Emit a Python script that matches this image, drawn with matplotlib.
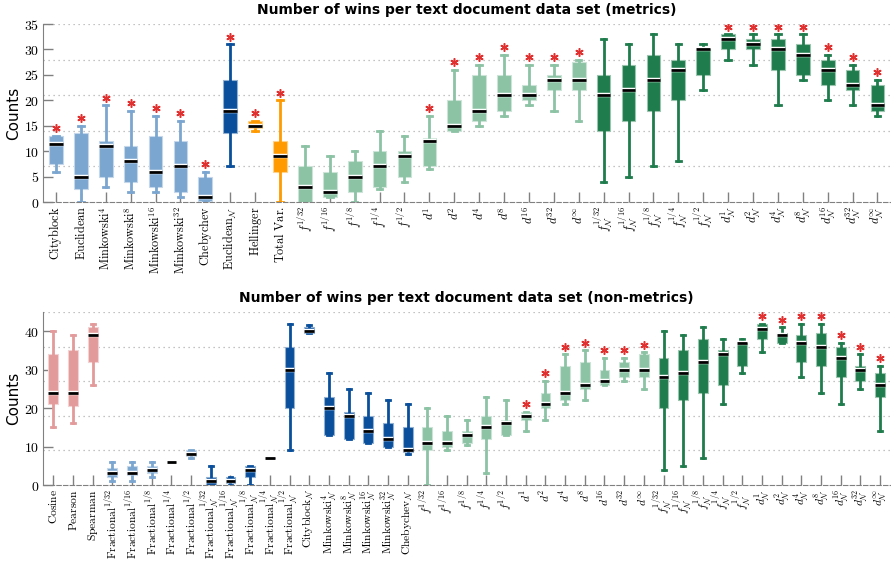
import numpy as np
import matplotlib
matplotlib.use("Agg")
import matplotlib.pyplot as plt
import matplotlib.patheffects as pe

plt.rcParams["mathtext.fontset"] = "cm"

# colours per method family
LBLUE = "#7ba6d0"
DBLUE = "#0a4f9c"
ORANGE = "#ff9a00"
LGREEN = "#8cc3a5"
DGREEN = "#1f7c4c"
PINK = "#e39a9a"
STAR = "#e0302f"

# ---- metrics ----
met_labels = [
    r"$\mathrm{Cityblock}$", r"$\mathrm{Euclidean}$",
    r"$\mathrm{Minkowski}^{4}$", r"$\mathrm{Minkowski}^{8}$",
    r"$\mathrm{Minkowski}^{16}$", r"$\mathrm{Minkowski}^{32}$",
    r"$\mathrm{Chebychev}$", r"$\mathrm{Euclidean}_{\mathcal{N}}$",
    r"$\mathrm{Hellinger}$", r"$\mathrm{Total\ Var.}$",
    r"$f^{1/32}$", r"$f^{1/16}$", r"$f^{1/8}$", r"$f^{1/4}$", r"$f^{1/2}$",
    r"$d^{1}$", r"$d^{2}$", r"$d^{4}$", r"$d^{8}$", r"$d^{16}$", r"$d^{32}$",
    r"$d^{\infty}$",
    r"$f_{\mathcal{N}}^{1/32}$", r"$f_{\mathcal{N}}^{1/16}$",
    r"$f_{\mathcal{N}}^{1/8}$", r"$f_{\mathcal{N}}^{1/4}$",
    r"$f_{\mathcal{N}}^{1/2}$",
    r"$d_{\mathcal{N}}^{1}$", r"$d_{\mathcal{N}}^{2}$", r"$d_{\mathcal{N}}^{4}$",
    r"$d_{\mathcal{N}}^{8}$", r"$d_{\mathcal{N}}^{16}$",
    r"$d_{\mathcal{N}}^{32}$", r"$d_{\mathcal{N}}^{\infty}$",
]
met_lo = [6, 0, 3, 2, 2, 1, 0, 7, 14, 0,
          0, 1, 0, 2.5, 4, 6.5, 14, 15, 17, 19, 18, 16,
          4, 5, 7, 8, 22, 28, 27, 19, 24, 20, 19, 17]
met_q1 = [7.5, 2.5, 5, 4, 3, 2, 0.3, 13.5, 14.5, 6,
          0, 1, 2, 3, 5, 7, 14, 16, 18, 20, 22, 22,
          14, 16, 18, 20, 25, 30, 30, 26, 25, 23, 22, 18]
met_med = [11.5, 5, 11, 8, 6, 7, 1, 18, 15, 9,
           3, 2, 5, 7, 9, 12, 15, 18, 21, 21, 24, 24,
           21, 22, 24, 26, 30, 32, 31, 30, 29, 26, 23, 19]
met_q3 = [13, 13.5, 12, 11, 13, 12, 5, 24, 16, 12,
          7, 6, 8, 10, 10, 12.5, 20, 25, 25, 23, 25, 27.5,
          25, 27, 29, 28, 30, 33, 32, 32, 31, 28, 26, 23]
met_hi = [13, 15, 19, 18, 17, 16, 6, 31, 16, 20,
          11, 9, 10, 14, 13, 17, 26, 27, 29, 27, 27, 28,
          32, 31, 33, 31, 31, 33, 33, 33, 33, 29, 27, 24]
met_sig = [1] * 10 + [0] * 5 + [1] * 7 + [0] * 5 + [1] * 7
met_colors = ([LBLUE] * 7 + [DBLUE, ORANGE, ORANGE]
              + [LGREEN] * 12 + [DGREEN] * 12)

# ---- non-metrics ----
non_labels = [
    r"$\mathrm{Cosine}$", r"$\mathrm{Pearson}$", r"$\mathrm{Spearman}$",
    r"$\mathrm{Fractional}^{1/32}$", r"$\mathrm{Fractional}^{1/16}$",
    r"$\mathrm{Fractional}^{1/8}$", r"$\mathrm{Fractional}^{1/4}$",
    r"$\mathrm{Fractional}^{1/2}$",
    r"$\mathrm{Fractional}_{\mathcal{N}}^{1/32}$",
    r"$\mathrm{Fractional}_{\mathcal{N}}^{1/16}$",
    r"$\mathrm{Fractional}_{\mathcal{N}}^{1/8}$",
    r"$\mathrm{Fractional}_{\mathcal{N}}^{1/4}$",
    r"$\mathrm{Fractional}_{\mathcal{N}}^{1/2}$",
    r"$\mathrm{Cityblock}_{\mathcal{N}}$",
    r"$\mathrm{Minkowski}_{\mathcal{N}}^{4}$",
    r"$\mathrm{Minkowski}_{\mathcal{N}}^{8}$",
    r"$\mathrm{Minkowski}_{\mathcal{N}}^{16}$",
    r"$\mathrm{Minkowski}_{\mathcal{N}}^{32}$",
    r"$\mathrm{Chebychev}_{\mathcal{N}}$",
    r"$f^{1/32}$", r"$f^{1/16}$", r"$f^{1/8}$", r"$f^{1/4}$", r"$f^{1/2}$",
    r"$d^{1}$", r"$d^{2}$", r"$d^{4}$", r"$d^{8}$", r"$d^{16}$", r"$d^{32}$",
    r"$d^{\infty}$",
    r"$f_{\mathcal{N}}^{1/32}$", r"$f_{\mathcal{N}}^{1/16}$",
    r"$f_{\mathcal{N}}^{1/8}$", r"$f_{\mathcal{N}}^{1/4}$",
    r"$f_{\mathcal{N}}^{1/2}$",
    r"$d_{\mathcal{N}}^{1}$", r"$d_{\mathcal{N}}^{2}$", r"$d_{\mathcal{N}}^{4}$",
    r"$d_{\mathcal{N}}^{8}$", r"$d_{\mathcal{N}}^{16}$",
    r"$d_{\mathcal{N}}^{32}$", r"$d_{\mathcal{N}}^{\infty}$",
]
non_lo = [15, 16, 26, 1, 1, 2, 6, 7, 0, 0, 0, 7, 9,
          39.5, 13, 12, 11, 10, 8,
          0, 9, 10.5, 3, 13, 14, 17, 21, 22, 26, 27, 25,
          4, 5, 7, 21, 29, 34.5, 37, 28, 24, 21, 25, 14]
non_q1 = [21, 20.5, 32, 2, 2.5, 3, 6, 7.5, 0, 0.5, 2, 7, 20,
          39.5, 13, 12, 11, 10, 8.5,
          9, 10, 11, 12, 13, 17, 20, 22, 25, 26, 28, 28,
          20, 22, 24, 26, 31, 38, 37, 32, 31, 28, 27, 23]
non_med = [24, 24, 39, 3, 3, 4, 6, 8, 1, 1, 4, 7, 30,
           40, 20, 18, 14, 12, 9,
           11, 11, 13, 15, 16, 18, 21, 24, 26, 27, 30, 30,
           28, 29, 32, 34, 37, 40.5, 39, 37, 36, 33, 30, 26]
non_q3 = [34, 35, 41, 4.5, 5, 5, 6, 9, 2, 2, 5, 7, 36,
          41, 23, 19, 18, 16, 15,
          15, 14, 14, 18, 17, 19, 24, 31, 32, 30, 32, 34,
          33, 35, 38, 35, 37, 42, 39.5, 39, 39.5, 36, 31, 29]
non_hi = [40, 39, 42, 6, 6, 6, 6, 9, 5, 2, 5, 7, 42,
          41.5, 29, 25, 24, 22, 21,
          20, 18, 17, 23, 22, 19, 27, 34, 35, 33, 33, 34.5,
          40, 39, 41, 38, 38, 42, 41, 42, 42, 37, 34, 31]
non_sig = [0] * 24 + [1] * 7 + [0] * 5 + [1] * 7
non_colors = ([PINK] * 3 + [LBLUE] * 5 + [DBLUE] * 11
              + [LGREEN] * 12 + [DGREEN] * 12)


def lighten(c, amt=0.55):
    rgb = np.array(matplotlib.colors.to_rgb(c))
    return tuple(rgb + (1 - rgb) * amt)


def draw_panel(ax, labels, lo, q1, med, q3, hi, sig, colors, ymax, ystep,
               star_off, title, box_w, lab_size):
    n = len(labels)
    pos = np.arange(1, n + 1)
    stats = [dict(whislo=a, q1=b, med=c, q3=d, whishi=e)
             for a, b, c, d, e in zip(lo, q1, med, q3, hi)]
    art = ax.bxp(stats, positions=pos, widths=box_w, showfliers=False,
                 patch_artist=True, capwidths=box_w * 0.4,
                 medianprops=dict(color="black", linewidth=2.0,
                                  path_effects=[pe.withStroke(linewidth=3.2,
                                                              foreground="white")]))
    for i, c in enumerate(colors):
        art["boxes"][i].set_facecolor(c)
        art["boxes"][i].set_edgecolor(lighten(c))
        art["boxes"][i].set_linewidth(0.8)
        for w in art["whiskers"][2 * i:2 * i + 2]:
            w.set_color(c)
            w.set_linewidth(2)
        for cp in art["caps"][2 * i:2 * i + 2]:
            cp.set_color(c)
            cp.set_linewidth(2)
        art["medians"][i].set_zorder(5)

    sx = [p for p, s in zip(pos, sig) if s]
    sy = [h + star_off for h, s in zip(hi, sig) if s]
    ax.plot(sx, sy, linestyle="none", marker=(6, 2, 0), markersize=6,
            markeredgewidth=1.1, color=STAR, zorder=6)

    # dotted guide lines at fifths of the range
    for g in np.linspace(ymax / 5, ymax, 5):
        ax.axhline(g, color="#b0b0b0", linestyle=(0, (1, 3)), linewidth=0.9,
                   zorder=0)

    ax.set_xlim(0.5, n + 0.5)
    ax.set_ylim(0, ymax)
    ax.set_xticks(pos)
    ax.set_xticklabels(labels, rotation=90, fontsize=lab_size)
    yt = np.arange(0, ymax + 0.1, ystep)
    ax.set_yticks(yt)
    ax.set_yticklabels([r"$%d$" % v for v in yt], fontsize=10)
    ax.tick_params(direction="in", length=7, color="#808080", width=1,
                   pad=3)
    ax.tick_params(axis="y", pad=3)
    for s in ("top", "right"):
        ax.spines[s].set_visible(False)
    ax.spines["left"].set_color("#808080")
    ax.spines["bottom"].set_color("#808080")
    ax.spines["bottom"].set_linestyle((0, (4, 2)))
    ax.set_ylabel("Counts", fontsize=11, labelpad=2)
    ax.set_title(title, fontsize=10, fontweight="bold", pad=7)


fig = plt.figure(figsize=(8.91, 5.66), dpi=100)
ax1 = fig.add_axes([0.0488, 0.643, 0.950, 0.3145])
ax2 = fig.add_axes([0.0488, 0.1431, 0.950, 0.3057])

draw_panel(ax1, met_labels, met_lo, met_q1, met_med, met_q3, met_hi,
           met_sig, met_colors, 35, 5, 1.5,
           "Number of wins per text document data set (metrics)", 0.55, 8.8)
draw_panel(ax2, non_labels, non_lo, non_q1, non_med, non_q3, non_hi,
           non_sig, non_colors, 45, 10, 2.0,
           "Number of wins per text document data set (non-metrics)", 0.5, 8.3)

fig.savefig("out.png", dpi=100)
